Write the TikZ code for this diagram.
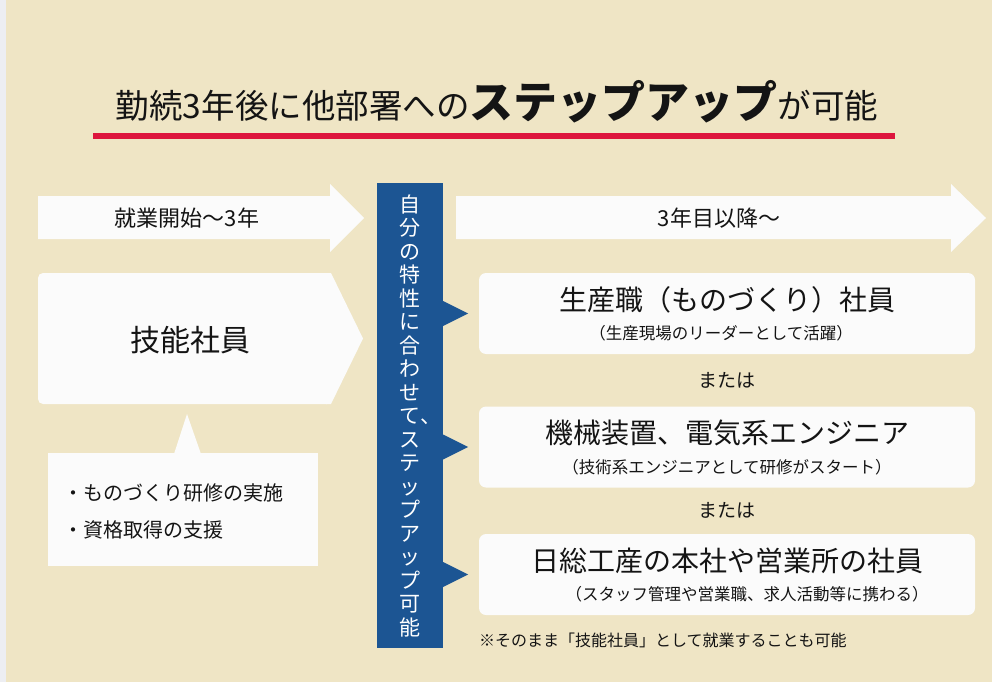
\documentclass[tikz,border=0pt]{standalone}
\usepackage{fontspec}
\setmainfont{Noto Sans CJK JP}
\usetikzlibrary{arrows,shapes,positioning,calc}
\definecolor{paper}{RGB}{239,229,197}
\definecolor{margin}{RGB}{237,238,242}
\definecolor{barblue}{RGB}{28,85,147}
\definecolor{linered}{RGB}{221,21,61}
\definecolor{boxwhite}{RGB}{251,251,251}
\definecolor{ink}{RGB}{20,20,20}
\tikzstyle{careerbox} = [fill=boxwhite, rounded corners=7pt, minimum width=496pt, minimum height=81pt, inner sep=0pt]
\tikzstyle{careermain} = [text=ink, inner sep=0pt, font=\fontsize{28}{30}\selectfont]
\tikzstyle{careersub} = [text=ink, inner sep=0pt, font=\fontsize{16.5}{18}\selectfont]
\tikzstyle{flowtext} = [text=ink, inner sep=0pt, font=\fontsize{22}{24}\selectfont]
\tikzstyle{ortext} = [text=ink, inner sep=0pt, font=\fontsize{19}{21}\selectfont]
\tikzstyle{listtext} = [text=ink, inner sep=0pt, anchor=west, font=\fontsize{20}{22}\selectfont]
\tikzstyle{pointer} = [fill=barblue]
\newcommand{\flowarrow}[6]{
\fill[boxwhite] (#2,196) -- (#3,196) -- (#3,184) -- (#4,218) -- (#3,252) -- (#3,239) -- (#2,239) -- cycle;
\node[flowtext] (#1) at (#5,218) {#6};
}
\newcommand{\careerbox}[5]{
\node[careerbox] (#1) at (727,#2) {};
\node[careermain] (#1-main) at ([yshift=14pt]#1.center) {#3};
\node[careersub] (#1-sub) at ([yshift=-20pt, xshift=#5]#1.center) {#4};
}
\newcommand{\barpointer}[1]{
\fill[pointer] (bar.east |- #1.west) ++(0,-12.5) -- ++(25,12.5) -- ++(-25,12.5) -- cycle;
}

\begin{document}
\begin{tikzpicture}[x=1pt,y=-1pt]
\useasboundingbox (0,0) rectangle (992,682);
\fill[paper] (0,0) rectangle (992,682);
\fill[margin] (0,0) rectangle (6,682);

\node[text=ink, inner sep=0pt, anchor=base] (title) at (497,118)
  {\fontsize{33.5}{36}\selectfont 勤続3年後に他部署への{\fontsize{44}{46}\selectfont\bfseries ステップアップ}が可能};
\fill[linered] (93,133) rectangle (895,139);

\flowarrow{start}{38}{330}{364}{187}{就業開始〜3年}
\flowarrow{later}{456}{951}{986}{719}{3年目以降〜}

\fill[boxwhite, rounded corners=5pt] (38,273) rectangle (332,404);
\fill[boxwhite] (326,273) -- (331,273) -- (363,338.5) -- (331,404) -- (326,404) -- cycle;
\node[text=ink, inner sep=0pt, font=\fontsize{30}{32}\selectfont] (skill) at (190,340) {技能社員};

\fill[boxwhite] (48,453) rectangle (318,566);
\fill[boxwhite] (174,454) -- (187,414) -- (201,454) -- cycle;
\node[listtext] (train) at (63,493) {・ものづくり研修の実施};
\node[listtext] (support) at ([yshift=-37pt]train.west) {・資格取得の支援};

\node[fill=barblue, minimum width=66pt, minimum height=465pt, inner sep=0pt] (bar) at (410,415.5) {};
\node[text=white, align=center, inner sep=0pt, font=\fontsize{21}{23.5}\selectfont] (bartext) at (bar.center)
  {自\\分\\の\\特\\性\\に\\合\\わ\\せ\\て\rlap{、}\\ス\\テ\\ッ\\プ\\ア\\ッ\\プ\\可\\能};

\careerbox{prod}{313.5}{生産職（ものづくり）社員}{（生産現場のリーダーとして活躍）}{-6pt}
\careerbox{eng}{447}{機械装置、電気系エンジニア}{（技術系エンジニアとして研修がスタート）}{0pt}
\careerbox{office}{574.5}{日総工産の本社や営業所の社員}{（スタッフ管理や営業職、求人活動等に携わる）}{20pt}

\barpointer{prod}
\barpointer{eng}
\barpointer{office}

\node[ortext] (or1) at ($(prod.south)!0.5!(eng.north)$) {または};
\node[ortext] (or2) at ($(eng.south)!0.5!(office.north)$) {または};
\node[text=ink, inner sep=0pt, anchor=west, font=\fontsize{16}{18}\selectfont] (note)
  at ([yshift=-25pt]office.south west) {※そのまま「技能社員」として就業することも可能};
\end{tikzpicture}
\end{document}
